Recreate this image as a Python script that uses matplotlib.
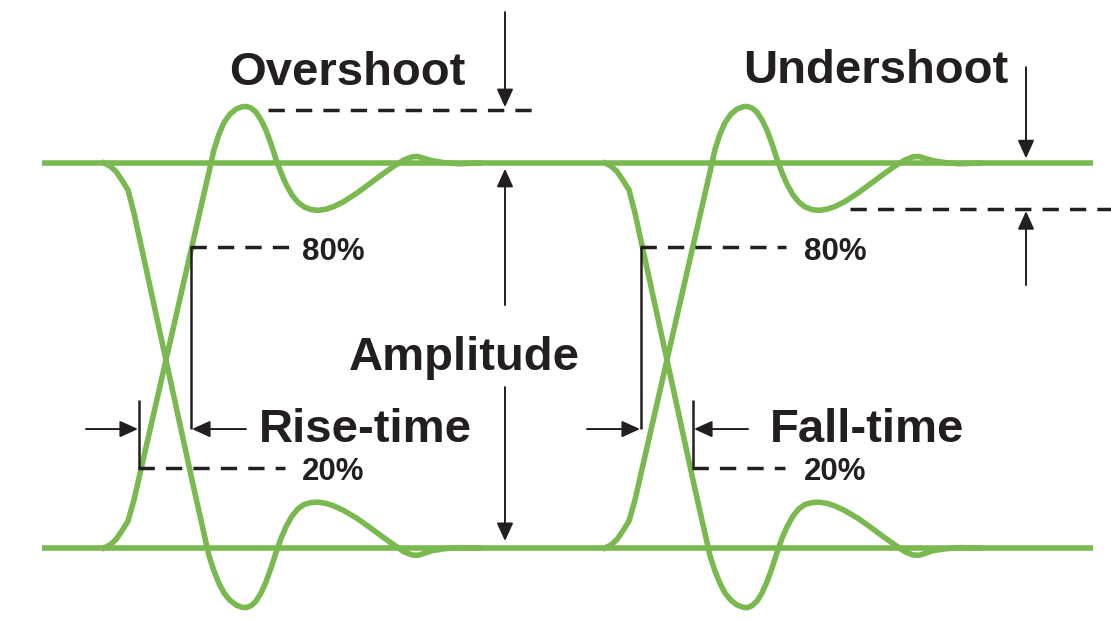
import matplotlib
matplotlib.use("Agg")
import matplotlib.pyplot as plt

# ---------------- data (time in px-like units, level: 0 = low, 1 = high) ----------------
tau = [0, 6, 12, 18, 24, 30, 60, 90, 105, 110, 115, 120, 126, 132, 138, 142, 147, 152,
       157, 162, 167, 172, 177, 182, 188, 194, 200, 207, 214, 222, 230, 240, 253, 265,
       278, 290, 300, 308, 314, 320, 328, 340, 355, 375]
rise_level = [0.0, 0.008, 0.022, 0.045, 0.07, 0.125, 0.466, 0.807, 0.977, 1.035, 1.075,
              1.105, 1.127, 1.140, 1.146, 1.147, 1.143, 1.132, 1.112, 1.085, 1.050, 1.010,
              0.975, 0.945, 0.917, 0.898, 0.886, 0.879, 0.877, 0.880, 0.887, 0.900, 0.922,
              0.945, 0.970, 0.992, 1.008, 1.016, 1.017, 1.012, 1.006, 1.001, 0.998, 1.0]
fall_level = [1.0, 0.992, 0.978, 0.955, 0.93, 0.87, 0.512, 0.153, -0.02, -0.06, -0.092,
              -0.117, -0.136, -0.148, -0.154, -0.155, -0.150, -0.138, -0.117, -0.088,
              -0.052, -0.012, 0.025, 0.055, 0.083, 0.102, 0.113, 0.118, 0.119, 0.116,
              0.109, 0.097, 0.077, 0.055, 0.030, 0.008, -0.010, -0.018, -0.019, -0.014,
              -0.007, -0.002, 0.001, 0.0]
eye_starts = [104, 605]
line_x = [42, 1093]
high_level = [1.0, 1.0]
low_level = [0.0, 0.0]

GREEN = "#79b94f"
INK = "#231f20"

fig = plt.figure(figsize=(11.11, 6.21), dpi=100)
ax = fig.add_axes([0, 0, 1, 1])
ax.set_xlim(0, 1111)
ax.set_ylim(-73 / 385, 548 / 385)
ax.axis("off")

# ---------------- waveforms ----------------
ax.plot(line_x, high_level, color=GREEN, lw=4.0, solid_capstyle="butt", zorder=2)
ax.plot(line_x, low_level, color=GREEN, lw=4.0, solid_capstyle="butt", zorder=2)
for t0 in eye_starts:
    xs = [t0 + t for t in tau]
    ax.plot(xs, rise_level, color=GREEN, lw=4.0, solid_joinstyle="round", zorder=2)
    ax.plot(xs, fall_level, color=GREEN, lw=4.0, solid_joinstyle="round", zorder=2)

# ---------------- helpers ----------------
def dashed(x0, x1, y):
    ax.plot([x0, x1], [y, y], color=INK, lw=2.5, dashes=(4.7, 3.2),
            dash_capstyle="butt", zorder=3)

def solid(x0, y0, x1, y1):
    ax.plot([x0, x1], [y0, y1], color=INK, lw=1.8, solid_capstyle="butt", zorder=3)

def arrow(tail, tip):
    ax.annotate("", xy=tip, xytext=tail,
                arrowprops=dict(arrowstyle="-|>,head_length=0.55,head_width=0.25",
                                color=INK, lw=1.4, shrinkA=0, shrinkB=0,
                                mutation_scale=20),
                zorder=3)

def label(x, y, s, size=34):
    ax.text(x, y, s, fontsize=size, fontweight="bold", family="Liberation Sans",
            color=INK, ha="left", va="baseline", zorder=4)

# ---------------- overshoot ----------------
dashed(268, 537, 1.138)
arrow((505, 1.392), (505, 1.145))
label(229, 1.203, "Overshoot")

# ---------------- undershoot ----------------
dashed(850, 1111, 0.881)
arrow((1026, 1.249), (1026, 1.012))
arrow((1026, 0.683), (1026, 0.875))
label(743, 1.208, "Undershoot")

# ---------------- amplitude ----------------
arrow((505, 0.631), (505, 0.985))
arrow((505, 0.418), (505, 0.018))
label(349, 0.462, "Amplitude")

# ---------------- rise time (eye 1) ----------------
solid(191, 0.782, 191, 0.309)
dashed(190.4, 290, 0.782)
solid(139, 0.384, 139, 0.208)
dashed(138.4, 285, 0.208)
arrow((86, 0.309), (138, 0.309))
arrow((246, 0.309), (192, 0.309))
label(259, 0.275, "Rise-time")
label(302, 0.748, "80%", size=22.5)
label(302, 0.177, "20%", size=22.5)

# ---------------- fall time (eye 2) ----------------
solid(641, 0.782, 641, 0.309)
dashed(640.4, 786, 0.782)
solid(693, 0.384, 693, 0.208)
dashed(692.4, 785, 0.208)
arrow((587, 0.309), (640, 0.309))
arrow((748, 0.309), (694, 0.309))
label(770, 0.275, "Fall-time")
label(804, 0.748, "80%", size=22.5)
label(804, 0.177, "20%", size=22.5)

fig.savefig("out.png", dpi=100)
